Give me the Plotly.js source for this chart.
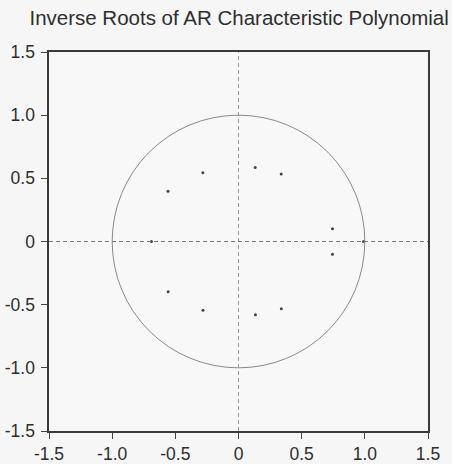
<!DOCTYPE html>
<html>
<head>
<meta charset="utf-8">
<script src="https://cdn.plot.ly/plotly-3.0.1.min.js"></script>
<style>html,body{margin:0;padding:0;background:#f6f6f6;}#chart{width:452px;height:464px;}</style>
</head>
<body>
<div id="chart"></div>
<script>
const rootReal = [-0.282, -0.558, 0.132, 0.338, 0.744, -0.689, 0.990, 0.744, -0.557, -0.281, 0.134, 0.339];
const rootImag = [0.545, 0.397, 0.585, 0.534, 0.101, 0.000, 0.000, -0.100, -0.397, -0.545, -0.580, -0.532];
const tickVals = [-1.5, -1.0, -0.5, 0, 0.5, 1.0, 1.5];
const tickText = ['-1.5', '-1.0', '-0.5', '0', '0.5', '1.0', '1.5'];
const titleText = 'Inverse Roots of AR Characteristic Polynomial';

const fontFam = '"Liberation Sans", Arial, sans-serif';

const axisCommon = {
  range: [-1.5, 1.5],
  tickvals: tickVals,
  ticktext: tickText,
  ticks: 'outside',
  ticklen: 6,
  tickwidth: 1,
  tickcolor: '#444',
  showline: true,
  linecolor: '#3a3a3a',
  linewidth: 1.6,
  mirror: true,
  showgrid: false,
  zeroline: false,
  tickfont: {family: fontFam, size: 17.5, color: '#2e2e2e'}
};

const layout = {
  width: 452, height: 464,
  margin: {l: 49, r: 24, t: 52, b: 33},
  paper_bgcolor: '#f6f6f6',
  plot_bgcolor: '#f8f8f8',
  showlegend: false,
  title: {text: titleText, x: 0.529, xanchor: 'center', y: 0.962, yanchor: 'middle',
          font: {family: fontFam, size: 20.5, color: '#2e2e2e'}},
  xaxis: Object.assign({}, axisCommon, {ticklabelstandoff: 0}),
  yaxis: Object.assign({}, axisCommon, {ticklabelstandoff: 3}),
  shapes: [
    {type: 'circle', xref: 'x', yref: 'y', x0: -1, y0: -1, x1: 1, y1: 1,
     line: {color: '#8a8a8a', width: 1}},
    {type: 'line', xref: 'x', yref: 'paper', x0: 0, x1: 0, y0: 0, y1: 1,
     line: {color: '#9a9a9a', width: 1, dash: '4px,3px'}},
    {type: 'line', xref: 'paper', yref: 'y', x0: 0, x1: 1, y0: 0, y1: 0,
     line: {color: '#7a7a7a', width: 1, dash: '4px,3px'}}
  ]
};

const trace = {
  x: rootReal, y: rootImag,
  type: 'scatter', mode: 'markers',
  marker: {size: 3, color: '#444'},
  hoverinfo: 'x+y'
};

Plotly.newPlot('chart', [trace], layout, {staticPlot: true, displayModeBar: false});
</script>
</body>
</html>
